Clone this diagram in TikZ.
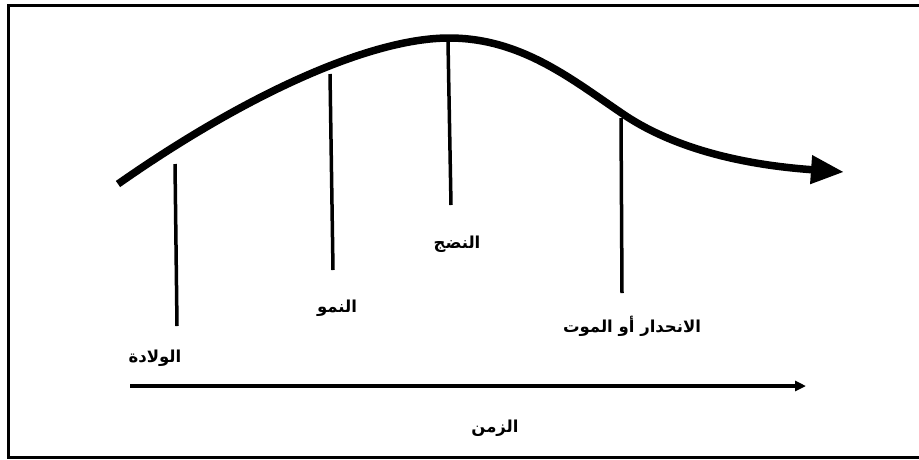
\documentclass[tikz,border=0pt]{standalone}
\usepackage{fontspec}
\newfontfamily\arabicfont[Script=Arabic]{DejaVu Sans}
\TeXXeTstate=1
\usetikzlibrary{arrows.meta,positioning}
\tikzset{
  lclabel/.style={font=\arabicfont\bfseries\fontsize{16.5}{19}\selectfont, inner sep=0pt},
  lcline/.style={line width=3.5pt},
  lccurve/.style={line width=7.5pt, -{Triangle[length=33pt, width=27pt]}},
  lcaxis/.style={line width=3.5pt, -{Triangle[length=11pt, width=10pt]}},
  lcframe/.style={draw, line width=3pt},
}

\begin{document}
\begin{tikzpicture}[x=1pt, y=-1pt]
  \useasboundingbox (0,0) rectangle (919,459);
  \draw[lcframe] (8.5,5.5) rectangle (935,457.5);

  % life curve
  \coordinate (c start) at (118,184);
  \coordinate (c peak) at (449,38);
  \coordinate (c fall) at (620,112);
  \coordinate (c end) at (844,172);
  \draw[lccurve] (c start) .. controls (245,95) and (370,38) .. (c peak)
    .. controls (520,38) and (570,78) .. (c fall)
    .. controls (680,154) and (760,166) .. (c end);

  % stages
  \node[lclabel] (birth) at (155,358) {\beginR الولادة\endR};
  \node[lclabel] (growth) at (337,308) {\beginR النمو\endR};
  \node[lclabel] (maturity) at (457,244) {\beginR النضج\endR};
  \node[lclabel] (decline) at (632,326) {\beginR الانحدار أو الموت\endR};
  \node[lclabel] (time) at (495,428) {\beginR الزمن\endR};

  \coordinate (birth top) at (175,164);
  \coordinate (birth bot) at (177,326);
  \coordinate (growth top) at (330,74);
  \coordinate (growth bot) at (333,270);
  \coordinate (maturity top) at (448,42);
  \coordinate (maturity bot) at (451,205);
  \coordinate (decline top) at (621,118);
  \coordinate (decline bot) at (622,293);
  \foreach \s in {birth, growth, maturity, decline}
    \draw[lcline] (\s\space top) -- (\s\space bot);

  % time axis
  \coordinate (t start) at (130,386);
  \coordinate (t end) at (806,386);
  \draw[lcaxis] (t start) -- (t end);
\end{tikzpicture}
\end{document}
